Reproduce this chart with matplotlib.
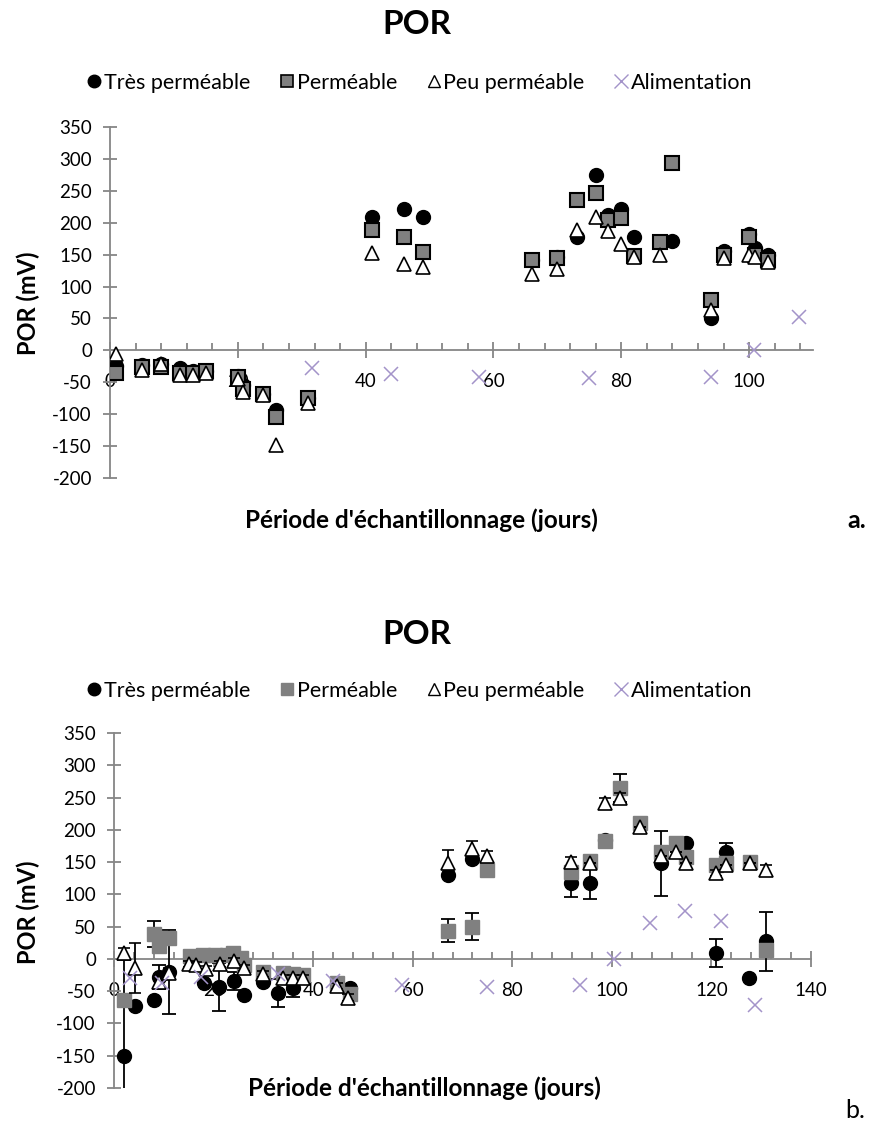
import numpy as np
import matplotlib.pyplot as plt
from matplotlib.lines import Line2D
from matplotlib.ticker import MultipleLocator

plt.rcParams['font.family'] = ['Lato', 'DejaVu Sans']
plt.rcParams['axes.unicode_minus'] = False

# ---- chart a ----
a_tp_x = [1, 5, 8, 11, 13, 15, 20, 20.8, 24, 26, 31, 41, 46, 49, 66, 70, 73, 76, 78, 80, 82, 88, 94, 96, 100, 101, 103]
a_tp_y = [-25, -23, -22, -28, -33, -32, -40, -55, -68, -93, -75, 209, 222, 209, 141, 147, 177, 275, 212, 222, 177, 172, 51, 155, 183, 160, 149]
a_p_x = [1, 5, 8, 11, 13, 15, 20, 20.8, 24, 26, 31, 41, 46, 49, 66, 70, 73, 76, 78, 80, 82, 86, 88, 94, 96, 100, 101, 103]
a_p_y = [-36, -26, -26, -35, -35, -33, -42, -60, -68, -105, -75, 188, 178, 154, 141, 144, 236, 247, 205, 207, 148, 170, 293, 79, 149, 178, 149, 141]
a_pp_x = [1, 5, 8, 11, 13, 15, 20, 20.8, 24, 26, 31, 41, 46, 49, 66, 70, 73, 76, 78, 80, 82, 86, 94, 96, 100, 101, 103]
a_pp_y = [-5, -30, -22, -38, -38, -35, -45, -65, -70, -148, -83, 153, 135, 130, 120, 127, 188, 209, 187, 166, 147, 149, 64, 144, 149, 147, 139]
a_al_x = [31.6, 44, 57.8, 74.9, 94, 100.8, 107.8]
a_al_y = [-28, -37, -41, -44, -42, 0, 53]

# ---- chart b ----
b_tp_x = [2, 4.3, 8, 9, 11, 18, 21, 24.2, 26.2, 30, 33, 36, 47.4, 67, 72, 91.7, 95.6, 98.7, 109.8, 114.8, 120.9, 123, 127.5, 131]
b_tp_y = [-151, -73, -64, -28, -20, -38, -43, -34, -56, -35, -53, -45, -45, 130, 155, 117, 117, 185, 148, 180, 9, 166, -30, 27]
b_tp_err = [150, 0, 0, 18, 65, 0, 37, 14, 0, 0, 22, 14, 0, 0, 0, 21, 24, 0, 50, 0, 22, 14, 0, 46]
b_p_x = [2, 8, 9, 11, 15.3, 17.9, 20.3, 22.7, 24, 25.5, 26.2, 30, 34, 36, 38, 44.7, 47.4, 67, 72, 75, 91.7, 95.6, 98.7, 101.7, 105.7, 109.8, 112.8, 114.8, 120.9, 123, 127.7, 131]
b_p_y = [-64, 38, 20, 33, 5, 6, 6, 6, 9, 2, -10, -20, -22, -24, -25, -38, -55, 44, 50, 138, 135, 152, 182, 265, 210, 165, 180, 158, 146, 148, 150, 14]
b_p_err = [0, 20, 0, 0, 0, 0, 0, 0, 0, 0, 0, 0, 0, 0, 0, 0, 0, 18, 21, 0, 0, 0, 0, 22, 0, 0, 0, 0, 0, 0, 0, 0]
b_pp_x = [2, 4.3, 9, 11, 15, 16.4, 18.4, 21.3, 24.1, 26.2, 30, 34, 36, 38, 44.7, 47, 67, 72, 75, 91.7, 95.6, 98.7, 101.7, 105.7, 109.8, 112.8, 114.8, 120.9, 123, 127.7, 131]
b_pp_y = [9, -14, -35, -22, -8, -10, -16, -8, -3, -14, -23, -30, -30, -30, -42, -60, 148, 171, 159, 150, 148, 242, 249, 205, 159, 166, 148, 133, 146, 148, 138]
b_pp_err = [8, 39, 8, 8, 5, 5, 5, 5, 5, 5, 5, 5, 5, 5, 5, 5, 20, 12, 8, 8, 0, 8, 8, 0, 0, 0, 0, 5, 0, 0, 8]
b_al_x = [3.3, 9.7, 17.4, 33, 44, 57.8, 75, 93.6, 100.5, 107.7, 114.6, 121.9, 128.8]
b_al_y = [-30, -37, -28, -24, -34, -40, -43, -40, 0, 55, 75, 59, -71]

labels = ['Très perméable', 'Perméable', 'Peu perméable', 'Alimentation']
yticks = np.arange(-200, 351, 50)

AXC = '#868686'
GRAY = '#808080'
PURPLE = '#a393c9'


def style_axes(ax, xmax, xticks):
    ax.set_xlim(0, xmax)
    ax.set_ylim(-200, 350)
    for s in ['top', 'right']:
        ax.spines[s].set_visible(False)
    for s in ['bottom', 'left']:
        ax.spines[s].set_position(('data', 0))
        ax.spines[s].set_color(AXC)
        ax.spines[s].set_linewidth(1.3)
    ax.set_xticks(xticks)
    ax.xaxis.set_minor_locator(MultipleLocator(4))
    ax.set_yticks(yticks)
    ax.tick_params(axis='x', which='major', direction='inout', length=11, width=1.3,
                   color=AXC, pad=11, labelsize=13.5)
    ax.tick_params(axis='x', which='minor', direction='in', length=5, width=1.3, color=AXC)
    ax.tick_params(axis='y', direction='inout', length=10, width=1.3, color=AXC,
                   pad=8, labelsize=13.5)
    ax.patch.set_visible(False)


fig = plt.figure(figsize=(8.74, 11.27), dpi=100)
W, H = 874, 1127

# chart a
ax1 = fig.add_axes([110 / W, 1 - 478 / H, 703 / W, 351 / H])
style_axes(ax1, 110, np.arange(0, 101, 20))
ax1.plot(a_tp_x, a_tp_y, 'o', color='black', ms=10, zorder=3)
ax1.plot(a_p_x, a_p_y, 's', mfc=GRAY, mec='black', mew=1.5, ms=9.5, zorder=4)
ax1.plot(a_pp_x, a_pp_y, '^', mfc='white', mec='black', mew=1.2, ms=9.5, zorder=5)
ax1.plot(a_al_x, a_al_y, 'x', color=PURPLE, ms=10, mew=1.1, zorder=6)

# chart b
ax2 = fig.add_axes([114 / W, 1 - 1088 / H, 697 / W, 355 / H])
style_axes(ax2, 140, np.arange(0, 141, 20))
ax2.errorbar(b_tp_x, b_tp_y, yerr=b_tp_err, fmt='o', color='black', ms=10,
             ecolor='black', elinewidth=1.3, capsize=5, capthick=1.3, zorder=3)
ax2.errorbar(b_p_x, b_p_y, yerr=b_p_err, fmt='s', mfc=GRAY, mec=GRAY, ms=10,
             ecolor='black', elinewidth=1.3, capsize=5, capthick=1.3, zorder=4)
ax2.errorbar(b_pp_x, b_pp_y, yerr=b_pp_err, fmt='^', mfc='white', mec='black', mew=1.2, ms=9.5,
             ecolor='black', elinewidth=1.3, capsize=4, capthick=1.3, zorder=5)
ax2.plot(b_al_x, b_al_y, 'x', color=PURPLE, ms=10, mew=1.1, zorder=6)

# legends
handles_a = [
    Line2D([], [], ls='none', marker='o', color='black', ms=9),
    Line2D([], [], ls='none', marker='s', mfc=GRAY, mec='black', mew=1.2, ms=8.5),
    Line2D([], [], ls='none', marker='^', mfc='white', mec='black', mew=1, ms=8.5),
    Line2D([], [], ls='none', marker='x', color=PURPLE, ms=9.5, mew=1),
]
handles_b = [
    Line2D([], [], ls='none', marker='o', color='black', ms=9),
    Line2D([], [], ls='none', marker='s', mfc=GRAY, mec=GRAY, ms=8.5),
    Line2D([], [], ls='none', marker='^', mfc='white', mec='black', mew=1, ms=8.5),
    Line2D([], [], ls='none', marker='x', color=PURPLE, ms=9.5, mew=1),
]
for hs, ypx in [(handles_a, 83), (handles_b, 691)]:
    fig.legend(hs, labels, loc='center', bbox_to_anchor=(420 / W, 1 - ypx / H), ncol=4,
               frameon=False, fontsize=15.5, handlelength=0.6, handletextpad=0.15,
               columnspacing=1.4)

# titles and axis labels
for ty in [25, 635]:
    fig.text(417 / W, 1 - ty / H, 'POR', ha='center', va='center', fontsize=24, weight='bold')
fig.text(28 / W, 1 - 303 / H, 'POR (mV)', ha='center', va='center', rotation=90,
         fontsize=17, weight='bold')
fig.text(28 / W, 1 - 912 / H, 'POR (mV)', ha='center', va='center', rotation=90,
         fontsize=17, weight='bold')
fig.text(421 / W, 1 - 520 / H, "Période d'échantillonnage (jours)", ha='center', va='center',
         fontsize=17.5, weight='bold')
fig.text(424 / W, 1 - 1088 / H, "Période d'échantillonnage (jours)", ha='center', va='center',
         fontsize=17.5, weight='bold')
fig.text(857 / W, 1 - 520 / H, 'a.', ha='center', va='center', fontsize=18, weight='bold')
fig.text(855 / W, 1 - 1110 / H, 'b.', ha='center', va='center', fontsize=18)

fig.savefig('out.png', dpi=100)
